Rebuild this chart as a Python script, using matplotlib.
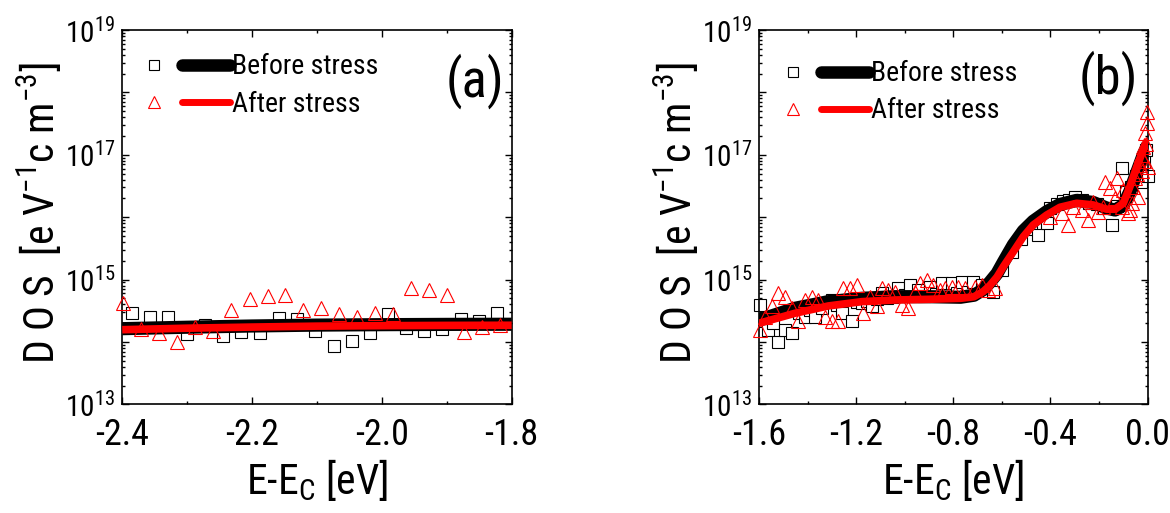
import numpy as np
import matplotlib
matplotlib.use("Agg")
import matplotlib.pyplot as plt
from matplotlib import font_manager
from matplotlib.lines import Line2D
from matplotlib.legend_handler import HandlerBase
from matplotlib.ticker import FixedLocator, FuncFormatter, LogLocator, MultipleLocator, NullFormatter

# ---------------------------------------------------------------- data
# (a) deep states, E - Ec in eV, DOS in eV^-1 cm^-3
a_before_E = [-2.3855, -2.3574, -2.3297, -2.3009, -2.2728, -2.2451, -2.2163, -2.1871,
              -2.1589, -2.1312, -2.1025, -2.0743, -2.0466, -2.0178, -1.9912, -1.9625,
              -1.9343, -1.9066, -1.8778, -1.8497, -1.8225]
a_before_dos = [2.9e14, 2.5e14, 2.5e14, 1.34e14, 1.87e14, 1.25e14, 1.46e14, 1.41e14,
                2.4e14, 2.3e14, 1.5e14, 8.6e13, 1.04e14, 1.39e14, 2.8e14, 1.67e14,
                1.5e14, 1.61e14, 2.3e14, 2.2e14, 2.9e14]
a_after_E = [-2.3985, -2.3717, -2.3435, -2.3154, -2.2882, -2.2600, -2.2317, -2.2035,
             -2.1754, -2.1486, -2.1215, -2.0932, -2.0662, -2.0385, -2.0102, -1.9831,
             -1.9548, -1.9277, -1.9000, -1.8728, -1.8455, -1.8178]
a_after_dos = [4.2e14, 1.59e14, 1.41e14, 1.01e14, 1.75e14, 1.51e14, 3.25e14, 4.8e14,
               5.4e14, 5.6e14, 3.3e14, 3.5e14, 2.8e14, 2.5e14, 2.9e14, 2.8e14,
               7.2e14, 6.8e14, 5.6e14, 1.46e14, 1.75e14, 1.87e14]
a_fit_E = [-2.4, -2.3, -2.2, -2.1, -2.0, -1.9, -1.8]
a_fit_before = [1.63e14, 1.72e14, 1.80e14, 1.86e14, 1.89e14, 1.91e14, 1.92e14]
a_fit_after = [1.57e14, 1.66e14, 1.73e14, 1.79e14, 1.82e14, 1.84e14, 1.85e14]

# (b) band-edge region
b_before_E = [-1.596, -1.575, -1.562, -1.541, -1.521, -1.493, -1.463, -1.437, -1.411, -1.390,
              -1.369, -1.340, -1.301, -1.280, -1.260, -1.218, -1.198, -1.177, -1.156, -1.136,
              -1.115, -1.095, -1.075, -1.054, -1.027, -1.000, -0.978, -0.944, -0.920, -0.896,
              -0.870, -0.848, -0.807, -0.785, -0.765, -0.740, -0.718, -0.683, -0.660, -0.635,
              -0.600, -0.560, -0.520, -0.480, -0.450, -0.416, -0.402, -0.375, -0.350, -0.325,
              -0.299, -0.270, -0.240, -0.210, -0.180, -0.148, -0.125, -0.107, -0.090, -0.070,
              -0.050, -0.026, -0.015, -0.008, 0.0]
b_before_dos = [3.9e14, 2.2e14, 1.55e14, 2.0e14, 1.0e14, 1.55e14, 1.37e14, 2.9e14, 2.5e14, 3.2e14,
                2.5e14, 3.5e14, 4.7e14, 3.9e14, 2.9e14, 2.2e14, 4.3e14, 4.2e14, 4.6e14, 3.7e14,
                4.8e14, 6.0e14, 5.0e14, 5.3e14, 7.2e14, 5.6e14, 8.2e14, 6.8e14, 5.5e14, 7.7e14,
                5.8e14, 8.7e14, 8.7e14, 6.0e14, 9.2e14, 6.2e14, 9.2e14, 8.2e14, 7.5e14, 6.4e14,
                1.4e15, 2.8e15, 4.5e15, 6.5e15, 5.2e15, 8.0e15, 1.4e16, 1.6e16, 1.8e16, 1.9e16,
                2.1e16, 1.9e16, 1.7e16, 1.6e16, 1.4e16, 7.5e15, 1.5e16, 6.1e16, 2.5e16, 3.0e16,
                4.5e16, 3.7e16, 7.7e16, 1.2e17, 4.5e16]
b_after_E = [-1.596, -1.575, -1.548, -1.521, -1.493, -1.465, -1.438, -1.411, -1.383, -1.356,
             -1.328, -1.301, -1.274, -1.253, -1.225, -1.198, -1.171, -1.143, -1.115, -1.095,
             -1.068, -1.040, -1.013, -0.985, -0.958, -0.937, -0.910, -0.882, -0.855, -0.834,
             -0.807, -0.780, -0.752, -0.711, -0.683, -0.656, -0.628, -0.402, -0.354, -0.327,
             -0.306, -0.271, -0.245, -0.224, -0.203, -0.183, -0.176, -0.155, -0.134, -0.127,
             -0.107, -0.100, -0.080, -0.073, -0.066, -0.059, -0.052, -0.045, -0.038, -0.033,
             -0.026, -0.022, -0.018, -0.014, -0.011, -0.007, -0.004, -0.002, 0.0]
b_after_dos = [1.55e14, 2.5e14, 3.7e14, 6.0e14, 5.3e14, 3.5e14, 2.2e14, 4.7e14, 5.3e14, 4.7e14,
               2.5e14, 2.2e14, 2.2e14, 7.2e14, 7.2e14, 8.2e14, 2.9e14, 5.3e14, 3.7e14, 7.2e14,
               6.8e14, 6.4e14, 3.9e14, 3.5e14, 6.4e14, 8.7e14, 9.8e14, 8.2e14, 6.8e14, 7.2e14,
               7.7e14, 7.7e14, 7.2e14, 7.7e14, 8.2e14, 6.8e14, 7.2e14, 1.02e16, 1.15e16, 7.5e15,
               1.47e16, 1.3e16, 9.0e15, 1.77e16, 1.22e16, 1.47e16, 3.7e16, 2.9e16, 2.0e16, 4.2e16,
               1.47e16, 2.7e16, 1.15e16, 1.3e16, 1.67e16, 3.1e16, 4.2e16, 5.0e16, 2.1e16, 6.9e16,
               9.9e16, 5.5e16, 1.35e17, 8.0e16, 2.2e17, 1.5e17, 3.2e17, 4.9e17, 6.4e16]
b_fit_E = [-1.600, -1.452, -1.315, -1.177, -1.040, -0.903, -0.770, -0.715, -0.677, -0.650,
           -0.620, -0.594, -0.553, -0.512, -0.471, -0.416, -0.361, -0.292, -0.224, -0.169,
           -0.134, -0.100, -0.073, -0.045, -0.018, 0.0]
b_fit_before = [2.24e14, 3.46e14, 4.42e14, 5.0e14, 5.31e14, 5.31e14, 5.2e14, 5.6e14, 6.9e14, 9.0e14,
                1.25e15, 1.9e15, 3.6e15, 6.0e15, 8.6e15, 1.22e16, 1.6e16, 1.86e16, 1.72e16, 1.4e16,
                1.3e16, 1.55e16, 2.6e16, 5.2e16, 1.0e17, 1.43e17]
b_fit_after = [1.99e14, 2.88e14, 3.77e14, 4.42e14, 4.70e14, 4.82e14, 5.0e14, 5.3e14, 6.4e14, 8.0e14,
               1.1e15, 1.61e15, 2.79e15, 4.86e15, 7.5e15, 1.08e16, 1.44e16, 1.67e16, 1.57e16, 1.34e16,
               1.34e16, 1.67e16, 3.08e16, 6.4e16, 1.2e17, 1.75e17]

x_ticks_a = [-2.4, -2.2, -2.0, -1.8]
x_ticks_b = [-1.6, -1.2, -0.8, -0.4, 0.0]
legend_labels = ["Before stress", "After stress"]

# ---------------------------------------------------------------- style
def pick_family(cands):
    names = {f.name for f in font_manager.fontManager.ttflist}
    found = [c for c in cands if c in names]
    return found[:1] + ["Liberation Sans", "DejaVu Sans"]

FAM = pick_family(["Liberation Sans Narrow", "Arial Narrow", "Nimbus Sans Narrow",
                   "Roboto Condensed", "Archivo Narrow", "Arimo Narrow", "PT Sans Narrow",
                   "IBM Plex Sans Condensed", "Encode Sans Condensed", "Open Sans Condensed",
                   "Sofia Sans Condensed", "Pragati Narrow"])
plt.rcParams["font.family"] = FAM
plt.rcParams["mathtext.fontset"] = "custom"
plt.rcParams["mathtext.rm"] = FAM[0]
plt.rcParams["mathtext.it"] = FAM[0]
plt.rcParams["mathtext.default"] = "regular"


class LegendKey:
    def __init__(self, marker_kw, line_kw):
        self.marker_kw = marker_kw
        self.line_kw = line_kw


class MarkerLineHandler(HandlerBase):
    """Symbol on the left, a short fit line on the right."""
    def create_artists(self, legend, orig_handle, xdescent, ydescent, width, height,
                       fontsize, trans):
        y = height / 2 - ydescent
        x0 = -xdescent
        m = Line2D([x0 + 0.09 * width], [y], linestyle="none", transform=trans,
                   **orig_handle.marker_kw)
        ln = Line2D([x0 + 0.42 * width, x0 + 0.97 * width], [y, y], transform=trans,
                    solid_capstyle="round", **orig_handle.line_kw)
        return [m, ln]


def setup_axes(ax, xlim, xticks, xminor, panel, label_xy):
    ax.set_yscale("log")
    ax.set_ylim(1e13, 1e19)
    ax.set_xlim(*xlim)
    ax.xaxis.set_major_locator(FixedLocator(xticks))
    ax.xaxis.set_minor_locator(MultipleLocator(xminor))
    ax.xaxis.set_major_formatter(FuncFormatter(lambda v, p: f"{v:.1f}" if abs(v) > 1e-9 else "0.0"))
    ax.yaxis.set_major_locator(FixedLocator([10.0 ** k for k in range(13, 20)]))
    ax.yaxis.set_major_formatter(FuncFormatter(
        lambda v, p: (r"$10^{%d}$" % round(np.log10(v))) if round(np.log10(v)) % 2 == 1 else ""))
    ax.yaxis.set_minor_locator(LogLocator(base=10, subs=np.arange(2, 10), numticks=20))
    ax.yaxis.set_minor_formatter(NullFormatter())
    ax.tick_params(which="both", direction="in", top=True, right=True, width=1.0)
    ax.tick_params(which="major", length=5)
    ax.tick_params(which="minor", length=2.5)
    ax.tick_params(axis="x", which="major", labelsize=26, pad=9)
    ax.tick_params(axis="y", which="major", labelsize=21, pad=5)
    for s in ax.spines.values():
        s.set_linewidth(1.2)
    ax.set_xlabel(r"E-E$_\mathregular{C}$ [eV]", fontsize=30, va="top")
    ax.xaxis.set_label_coords(0.5, -0.142)
    ax.set_ylabel(r"D O S  [e V$^{\mathregular{-1}}$c m$^{\mathregular{-3}}$]", fontsize=30)
    ax.yaxis.set_label_coords(-0.150, 0.512)
    ax.text(label_xy[0], label_xy[1], panel, transform=ax.transAxes, fontsize=38,
            ha="center", va="center")


sq_kw = dict(marker="s", markersize=8, markerfacecolor="white", markeredgecolor="black",
             markeredgewidth=0.8)
tri_kw = dict(marker="^", markersize=10, markerfacecolor="none", markeredgecolor="red",
              markeredgewidth=0.8)

fig = plt.figure(figsize=(11.70, 5.13), dpi=100)
ax_a = fig.add_axes([0.1045, 0.2119, 0.3328, 0.7296])
ax_b = fig.add_axes([0.6487, 0.2119, 0.3322, 0.7296])

panels = [
    (ax_a, a_before_E, a_before_dos, a_after_E, a_after_dos, a_fit_E, a_fit_before, a_fit_after,
     (-2.4, -1.8), x_ticks_a, 0.1, "(a)", (0.906, 0.864), (0.061, 0.940)),
    (ax_b, b_before_E, b_before_dos, b_after_E, b_after_dos, b_fit_E, b_fit_before, b_fit_after,
     (-1.6, 0.0), x_ticks_b, 0.2, "(b)", (0.898, 0.872), (0.067, 0.922)),
]

for (ax, bE, bD, aE, aD, fE, fB, fA, xlim, xt, xm, lab, lab_xy, leg_xy) in panels:
    ax.plot(bE, bD, linestyle="none", zorder=2, clip_on=False, **sq_kw)
    ax.plot(fE, fB, color="black", lw=9.5, solid_capstyle="butt", zorder=3)
    ax.plot(fE, fA, color="red", lw=5.5, solid_capstyle="butt", zorder=4)
    ax.plot(aE, aD, linestyle="none", zorder=5, clip_on=False, **tri_kw)
    setup_axes(ax, xlim, xt, xm, lab, lab_xy)

    keys = [LegendKey(dict(marker="s", markersize=7, markerfacecolor="white",
                           markeredgecolor="black", markeredgewidth=0.8),
                      dict(color="black", lw=9)),
            LegendKey(dict(marker="^", markersize=9, markerfacecolor="none",
                           markeredgecolor="red", markeredgewidth=0.8),
                      dict(color="red", lw=5))]
    ax.legend(keys, legend_labels,
              handler_map={LegendKey: MarkerLineHandler()},
              loc="upper left", bbox_to_anchor=leg_xy, frameon=False,
              fontsize=20, handlelength=3.1, handletextpad=0.0, handleheight=1.0,
              labelspacing=0.33, borderaxespad=0.0, borderpad=0.0)

fig.savefig("out.png", dpi=100)
